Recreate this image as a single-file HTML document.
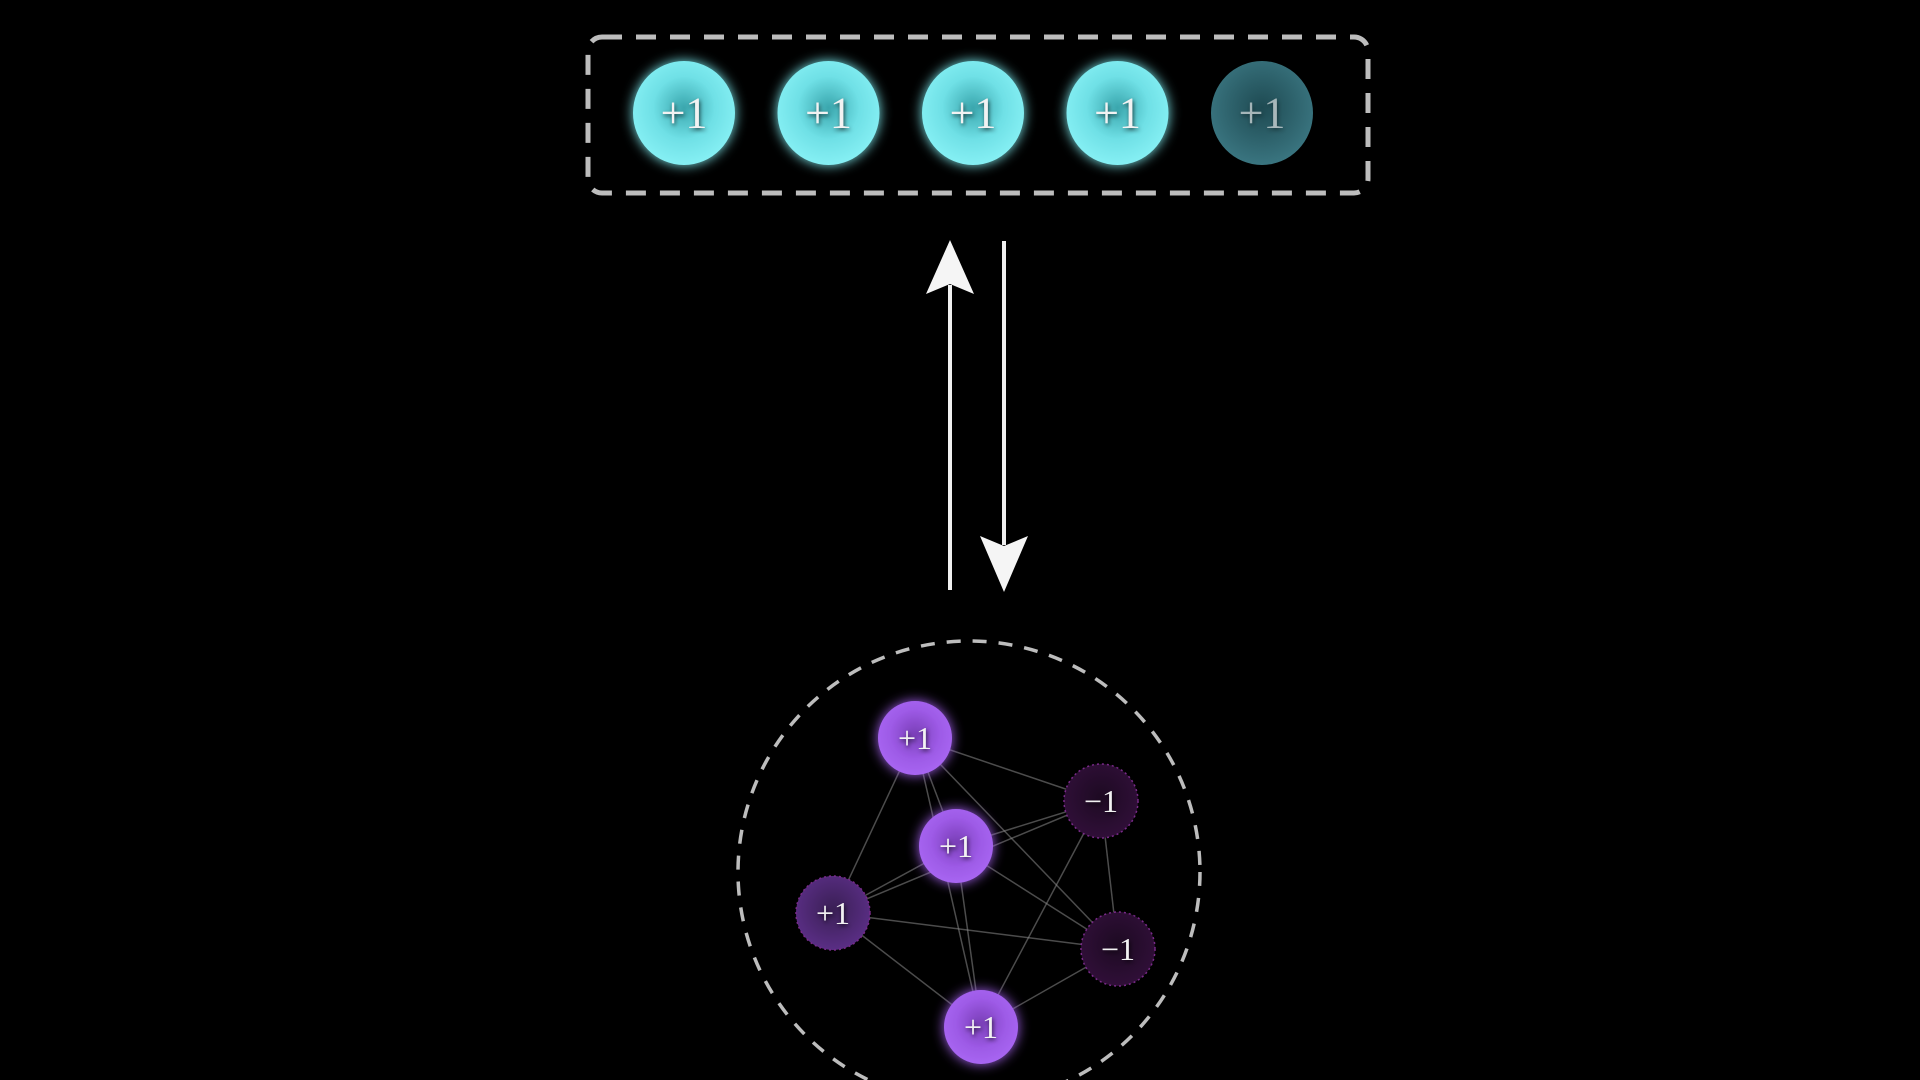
<!DOCTYPE html>
<html><head><meta charset="utf-8"><style>
html,body{margin:0;padding:0;background:#000;width:1920px;height:1080px;overflow:hidden}
svg{display:block}
text{font-family:"Liberation Serif",serif;fill:#f2f2f2;text-anchor:middle;dominant-baseline:central}
</style></head><body>
<svg id="chart" width="1920" height="1080" viewBox="0 0 1920 1080">
<defs>
<radialGradient id="cyanG" cx="50%" cy="45%" r="55%"><stop offset="0" stop-color="#3aa6ad"/><stop offset="0.55" stop-color="#6fe0e6"/><stop offset="1" stop-color="#86f0f4"/></radialGradient>
<radialGradient id="cyanDim" cx="50%" cy="45%" r="55%"><stop offset="0" stop-color="#1e4a52"/><stop offset="1" stop-color="#3a7580"/></radialGradient>
<radialGradient id="purG" cx="50%" cy="45%" r="55%"><stop offset="0" stop-color="#7a3fb8"/><stop offset="0.6" stop-color="#9d5ae6"/><stop offset="1" stop-color="#a866f2"/></radialGradient>
<radialGradient id="purMid" cx="50%" cy="45%" r="55%"><stop offset="0" stop-color="#3a1f55"/><stop offset="1" stop-color="#5a2e85"/></radialGradient>
<radialGradient id="purDark" cx="50%" cy="45%" r="55%"><stop offset="0" stop-color="#1d0a22"/><stop offset="1" stop-color="#300f38"/></radialGradient>
<filter id="glowC" x="-50%" y="-50%" width="200%" height="200%"><feGaussianBlur stdDeviation="6" result="b"/><feMerge><feMergeNode in="b"/><feMergeNode in="SourceGraphic"/></feMerge></filter>
<filter id="ts"><feDropShadow dx="1" dy="2" stdDeviation="2" flood-color="#000" flood-opacity="0.7"/></filter>
</defs>
<rect x="588" y="37" width="780" height="156" rx="14" fill="none" stroke="#bdbdbd" stroke-width="5" stroke-dasharray="20 14"/>
<g id="top"></g>
<g>
<line x1="950" y1="590" x2="950" y2="285" stroke="#f0f0f0" stroke-width="4"/>
<polygon points="950,240 926,294 950,284 974,294" fill="#f5f5f5"/>
</g>
<g>
<line x1="1004" y1="241" x2="1004" y2="545" stroke="#f0f0f0" stroke-width="4"/>
<polygon points="1004,592 980,536 1004,546 1028,536" fill="#f5f5f5"/>
</g>
<circle cx="969" cy="872" r="231" fill="none" stroke="#bdbdbd" stroke-width="3.5" stroke-dasharray="14 12"/>
<g id="edges"></g>
<g id="nodes"></g>
</svg>
<script>
const topSpins = [1, 1, 1, 1, 1];
const topActive = [1, 1, 1, 1, 0];
const nodeX = [915, 1101, 956, 833, 1118, 981];
const nodeY = [738, 801, 846, 913, 949, 1027];
const nodeSpins = [1, -1, 1, 1, -1, 1];
const nodeStyle = ['bright', 'dark', 'bright', 'mid', 'dark', 'bright'];
const NS = 'http://www.w3.org/2000/svg';
const topX = i => 684 + i * 144.5;
const lbl = v => (v > 0 ? '+' : '\u2212') + Math.abs(v);
const topG = document.getElementById('top');
topSpins.forEach((v, i) => {
  const c = document.createElementNS(NS, 'ellipse');
  
  
  c.setAttribute('cx', topX(i)); c.setAttribute('cy', 113);
  c.setAttribute('rx', 51); c.setAttribute('ry', 52);
  c.setAttribute('fill', topActive[i] ? 'url(#cyanG)' : 'url(#cyanDim)');
  if (topActive[i]) c.setAttribute('filter', 'url(#glowC)');
  topG.appendChild(c);
  const t = document.createElementNS(NS, 'text');
  
  
  t.setAttribute('x', topX(i)); t.setAttribute('y', 113);
  t.setAttribute('font-size', 44);
  t.setAttribute('filter', 'url(#ts)');
  if (!topActive[i]) t.setAttribute('fill-opacity', '0.6');
  t.textContent = lbl(v);
  topG.appendChild(t);
});
const eG = document.getElementById('edges');
for (let i = 0; i < nodeX.length; i++) for (let j = i + 1; j < nodeX.length; j++) {
  const l = document.createElementNS(NS, 'line');
  
  
  l.setAttribute('x1', nodeX[i]); l.setAttribute('y1', nodeY[i]);
  l.setAttribute('x2', nodeX[j]); l.setAttribute('y2', nodeY[j]);
  l.setAttribute('stroke', '#8a8a8a'); l.setAttribute('stroke-opacity', '0.55'); l.setAttribute('stroke-width', '1.5');
  eG.appendChild(l);
}
const nG = document.getElementById('nodes');
const fills = {bright: 'url(#purG)', mid: 'url(#purMid)', dark: 'url(#purDark)'};
nodeSpins.forEach((v, i) => {
  const c = document.createElementNS(NS, 'circle');
  
  
  c.setAttribute('cx', nodeX[i]); c.setAttribute('cy', nodeY[i]); c.setAttribute('r', 37);
  c.setAttribute('fill', fills[nodeStyle[i]]);
  if (nodeStyle[i] === 'bright') c.setAttribute('filter', 'url(#glowC)');
  else { c.setAttribute('stroke', '#7a2a8a'); c.setAttribute('stroke-width', '1.5'); c.setAttribute('stroke-dasharray', '2 3'); }
  nG.appendChild(c);
  const t = document.createElementNS(NS, 'text');
  
  
  t.setAttribute('x', nodeX[i]); t.setAttribute('y', nodeY[i]);
  t.setAttribute('font-size', 32);
  t.setAttribute('filter', 'url(#ts)');
  t.textContent = lbl(v);
  nG.appendChild(t);
});
</script>
</body></html>
